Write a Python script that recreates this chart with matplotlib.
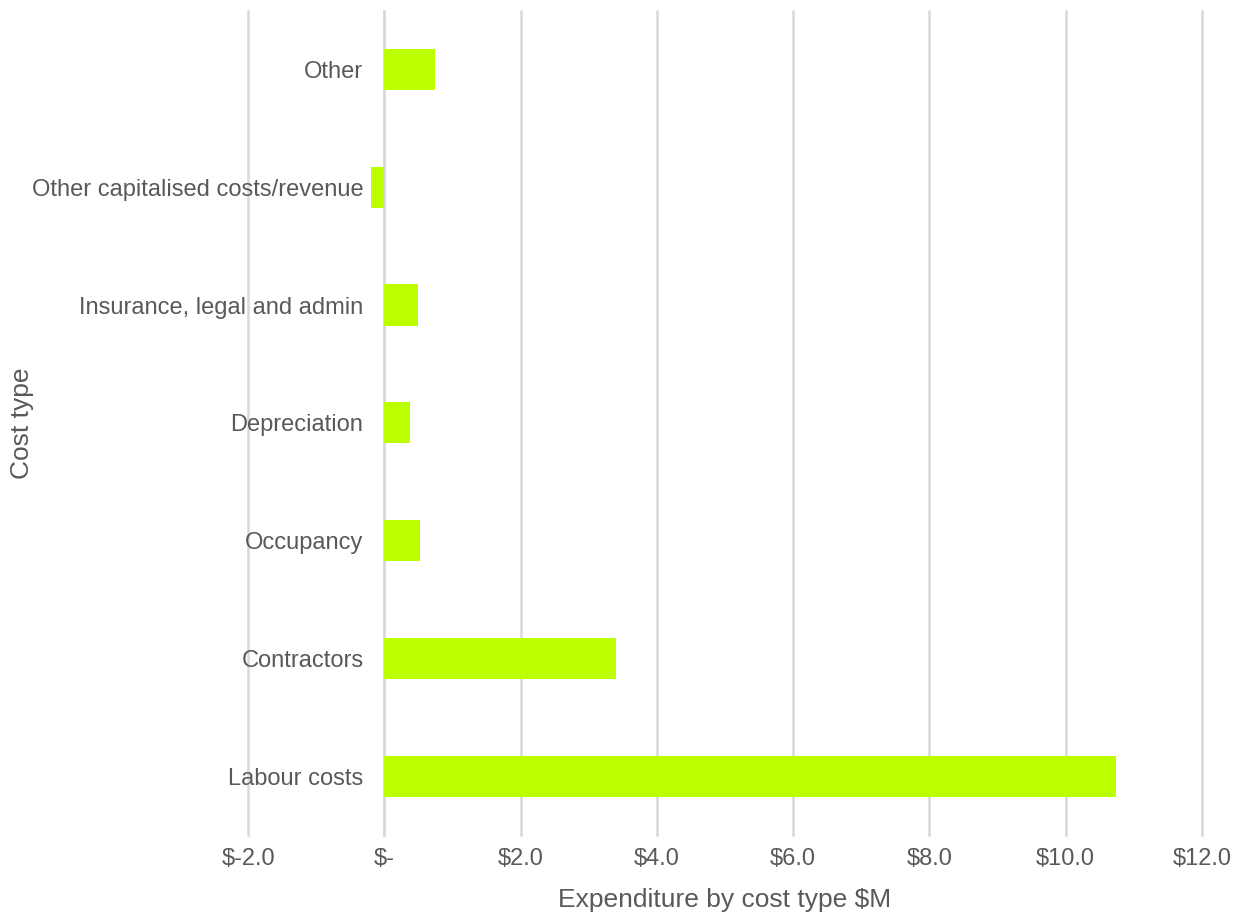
import matplotlib
matplotlib.use("Agg")
import matplotlib.pyplot as plt
from matplotlib.ticker import FuncFormatter, MultipleLocator

categories = ["Labour costs", "Contractors", "Occupancy", "Depreciation",
              "Insurance, legal and admin", "Other capitalised costs/revenue", "Other"]
values = [10.74, 3.40, 0.52, 0.38, 0.50, -0.20, 0.74]

plt.rcParams['font.family'] = ['Liberation Sans', 'DejaVu Sans']
text_color = "#595959"
grid_color = "#d9d9d9"
bar_color = "#BBFF00"

fig = plt.figure(figsize=(12.44, 9.18), dpi=100)
ax = fig.add_axes([0.1994, 0.0904, 0.7668, 0.8981])

ypos = range(len(categories))
ax.barh(ypos, values, height=0.35, color=bar_color, zorder=3)

ax.set_xlim(-2, 12)
ax.set_ylim(-0.5, len(categories) - 0.5)
ax.xaxis.set_major_locator(MultipleLocator(2))


def money(v, _):
    if abs(v) < 1e-9:
        return "$-"
    return f"${v:.1f}"


ax.xaxis.set_major_formatter(FuncFormatter(money))
ax.set_yticks(list(ypos))
ax.set_yticklabels(categories)

ax.grid(axis="x", color=grid_color, linewidth=1.8, zorder=0)
for gl in ax.get_xgridlines():
    gl.set_clip_on(False)

# vertical axis crosses at zero
for name in ("top", "right", "bottom"):
    ax.spines[name].set_visible(False)
ax.spines["left"].set_position(("data", 0))
ax.spines["left"].set_color(grid_color)
ax.spines["left"].set_linewidth(1.8)
ax.spines["left"].set_zorder(1)

ax.tick_params(axis="both", length=0, labelsize=17, colors=text_color)
ax.tick_params(axis="y", pad=15)
ax.tick_params(axis="x", pad=9)

ax.set_xlabel("Expenditure by cost type $M", fontsize=19, color=text_color, labelpad=13)
ax.set_ylabel("Cost type", fontsize=19, color=text_color)
ax.yaxis.set_label_coords(-0.2245, 0.5)

fig.savefig("out.png", dpi=100, facecolor="white")
